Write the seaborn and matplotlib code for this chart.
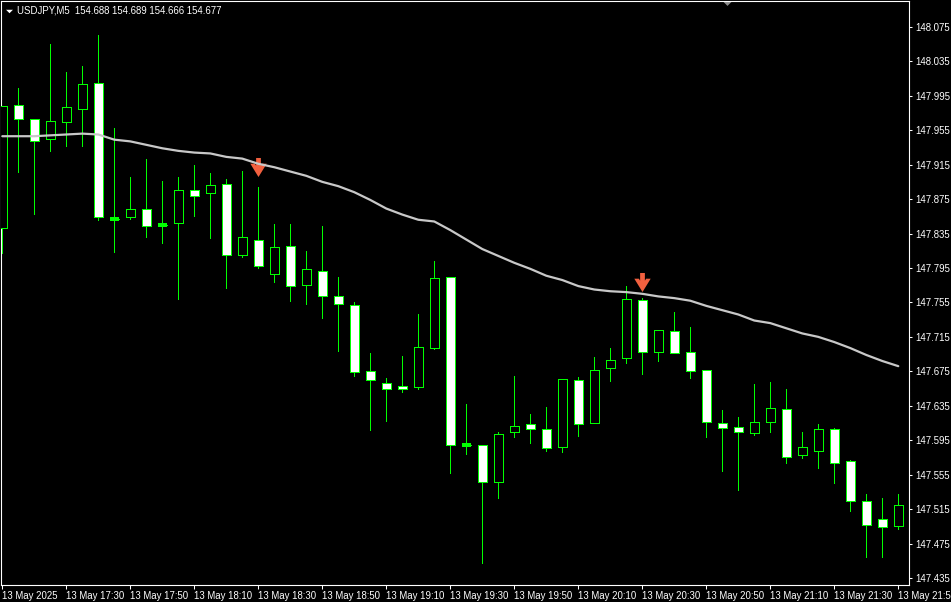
import matplotlib
matplotlib.use("Agg")
import matplotlib.pyplot as plt
from matplotlib.path import Path
import numpy as np
import pandas as pd
import seaborn as sns

# ---------------- data ----------------
symbol_header = "USDJPY,M5"
header_prices = ["154.688", "154.689", "154.666", "154.677"]

times = pd.date_range("2025-05-13 17:10", periods=57, freq="5min")

opens = [147.842, 147.984, 147.968, 147.945, 147.964, 147.980, 148.010, 147.852, 147.854, 147.864,
         147.845, 147.847, 147.886, 147.882, 147.892, 147.810, 147.828, 147.788, 147.820, 147.775,
         147.791, 147.762, 147.752, 147.675, 147.662, 147.658, 147.657, 147.702, 147.784, 147.590,
         147.589, 147.547, 147.604, 147.614, 147.608, 147.587, 147.665, 147.615, 147.679, 147.690,
         147.758, 147.698, 147.722, 147.697, 147.676, 147.615, 147.610, 147.603, 147.616, 147.631,
         147.578, 147.583, 147.608, 147.571, 147.525, 147.503, 147.495]
highs = [147.983, 148.004, 147.968, 148.055, 148.023, 148.030, 148.065, 147.958, 147.901, 147.922,
         147.896, 147.901, 147.915, 147.905, 147.898, 147.908, 147.889, 147.846, 147.846, 147.815,
         147.844, 147.784, 147.756, 147.696, 147.667, 147.693, 147.742, 147.803, 147.784, 147.637,
         147.589, 147.604, 147.669, 147.626, 147.634, 147.666, 147.668, 147.692, 147.702, 147.774,
         147.760, 147.723, 147.744, 147.727, 147.676, 147.630, 147.622, 147.660, 147.663, 147.655,
         147.605, 147.614, 147.609, 147.572, 147.533, 147.528, 147.533]
lows = [147.812, 147.907, 147.858, 147.931, 147.937, 147.937, 147.851, 147.814, 147.852, 147.831,
        147.824, 147.759, 147.855, 147.830, 147.772, 147.808, 147.795, 147.779, 147.757, 147.753,
        147.737, 147.699, 147.669, 147.607, 147.617, 147.651, 147.654, 147.701, 147.557, 147.579,
        147.452, 147.528, 147.599, 147.592, 147.582, 147.581, 147.600, 147.615, 147.664, 147.685,
        147.672, 147.687, 147.696, 147.667, 147.599, 147.559, 147.537, 147.601, 147.604, 147.569,
        147.574, 147.563, 147.545, 147.513, 147.459, 147.459, 147.492]
closes = [147.983, 147.968, 147.943, 147.966, 147.982, 148.009, 147.854, 147.852, 147.863, 147.844,
          147.845, 147.885, 147.878, 147.891, 147.810, 147.831, 147.797, 147.819, 147.774, 147.794,
          147.763, 147.753, 147.674, 147.665, 147.655, 147.655, 147.703, 147.783, 147.589, 147.590,
          147.546, 147.602, 147.612, 147.608, 147.586, 147.666, 147.614, 147.676, 147.688, 147.759,
          147.698, 147.723, 147.696, 147.675, 147.616, 147.609, 147.604, 147.616, 147.632, 147.576,
          147.587, 147.608, 147.569, 147.525, 147.497, 147.494, 147.520]
ma_values = [147.948, 147.948, 147.948, 147.949, 147.950, 147.951, 147.950, 147.944, 147.942, 147.938,
             147.934, 147.931, 147.929, 147.928, 147.924, 147.922, 147.916, 147.912, 147.907, 147.902,
             147.895, 147.890, 147.883, 147.874, 147.864, 147.857, 147.851, 147.849, 147.839, 147.828,
             147.817, 147.809, 147.801, 147.794, 147.786, 147.781, 147.774, 147.770, 147.768, 147.767,
             147.765, 147.762, 147.760, 147.757, 147.751, 147.746, 147.741, 147.734, 147.731, 147.725,
             147.719, 147.715, 147.709, 147.702, 147.694, 147.687, 147.681]

signal_bars = [16, 40]
signal_prices = [147.912, 147.779]

price_ticks = [147.435, 147.475, 147.515, 147.555, 147.595, 147.635, 147.675, 147.715, 147.755,
               147.795, 147.835, 147.875, 147.915, 147.955, 147.995, 148.035, 148.075]
time_tick_bars = [0, 4, 8, 12, 16, 20, 24, 28, 32, 36, 40, 44, 48, 52, 56]

# ---------------- style ----------------
sns.set_theme(style="dark")
plt.rcParams["font.family"] = ["Liberation Sans", "DejaVu Sans"]

BG = "black"
FG = "white"
GREEN = "#00ff00"
MA_COL = "#c8c8c8"
ARROW_COL = "#f2603f"
FS = 6.9
BODY_W = 0.58

df = pd.DataFrame({"bar": np.arange(len(opens)), "open": opens, "high": highs,
                   "low": lows, "close": closes, "ma": ma_values})
df["bear"] = df["close"] < df["open"]

W, H = 951, 602
fig = plt.figure(figsize=(W / 100, H / 100), dpi=100, facecolor=BG)
ax = fig.add_axes([1.3 / W, (H - 585) / H, (909 - 1.3) / W, (585 - 1) / H])
ax.set_facecolor(BG)

# wicks
ax.vlines(df["bar"], df["low"], df["high"], color=GREEN, lw=0.72, zorder=2, antialiased=False)

# bodies
body_bottom = np.minimum(df["open"], df["close"])
body_height = np.abs(df["close"] - df["open"])
fills = np.where(df["bear"], "white", "black")
ax.bar(df["bar"], body_height, bottom=body_bottom, width=BODY_W, color=fills,
       edgecolor=GREEN, linewidth=0.72, zorder=3, antialiased=False)

# doji bars drawn as a short thick line
doji = df[df["open"] == df["close"]]
ax.hlines(doji["open"], doji["bar"] - BODY_W / 2, doji["bar"] + BODY_W / 2,
          color=GREEN, lw=1.5, zorder=3, antialiased=False)

# signal arrows
arrow_verts = [(-0.25, 1.0), (0.25, 1.0), (0.25, 0.19), (0.38, 0.40), (0.86, 0.40),
               (0.0, -1.0), (-0.86, 0.40), (-0.38, 0.40), (-0.25, 0.19), (-0.25, 1.0)]
arrow_marker = Path(arrow_verts, closed=True)
ax.plot(signal_bars, signal_prices, ls="none", marker=arrow_marker, ms=13.7,
        color=ARROW_COL, markeredgewidth=0, zorder=3.5)

# moving average
sns.lineplot(data=df, x="bar", y="ma", color=MA_COL, lw=1.6, ax=ax, zorder=4)

# axes limits
ax.set_xlim(-0.0625, 56.67)
ax.set_ylim(147.4269, 148.105)
ax.set_xlabel("")
ax.set_ylabel("")
ax.grid(False)

# y axis on the right
ax.yaxis.tick_right()
ax.set_yticks(price_ticks)
ax.set_yticklabels([f"{v:.3f}" for v in price_ticks])
ax.tick_params(axis="y", colors=FG, labelcolor=FG, length=2.3, width=0.75, pad=2.0,
               labelsize=FS, direction="out", right=True, left=False)

# x axis
tick_labels = []
for i in time_tick_bars:
    t = times[i]
    tick_labels.append("13 May 2025" if i == 0 else f"13 May {t:%H:%M}")
ax.set_xticks(time_tick_bars)
ax.set_xticklabels(tick_labels, ha="left")
ax.tick_params(axis="x", colors=FG, labelcolor=FG, length=2.8, width=0.75, pad=1.6,
               labelsize=FS, direction="out", bottom=True)

for s in ax.spines.values():
    s.set_color(FG)
    s.set_linewidth(0.8)
    s.set_visible(True)

# header
fig.text(17 / W, 1 - 10.8 / H, f"{symbol_header}  " + " ".join(header_prices),
         color=FG, fontsize=FS, va="center", ha="left")
tri = Path([(-1, 0.5), (1, 0.5), (0, -0.5), (-1, 0.5)], closed=True)
ax.plot([8.5 / W], [1 - 10.5 / H], transform=fig.transFigure, marker=tri, ms=5,
        color=FG, markeredgewidth=0, clip_on=False, ls="none")
# chart-shift marker at the top
ax.plot([727 / W], [1 - 3 / H], transform=fig.transFigure, marker=tri, ms=7,
        color="#8a8a8a", markeredgewidth=0, clip_on=False, ls="none")

fig.savefig("out.png", dpi=100, facecolor=BG)
